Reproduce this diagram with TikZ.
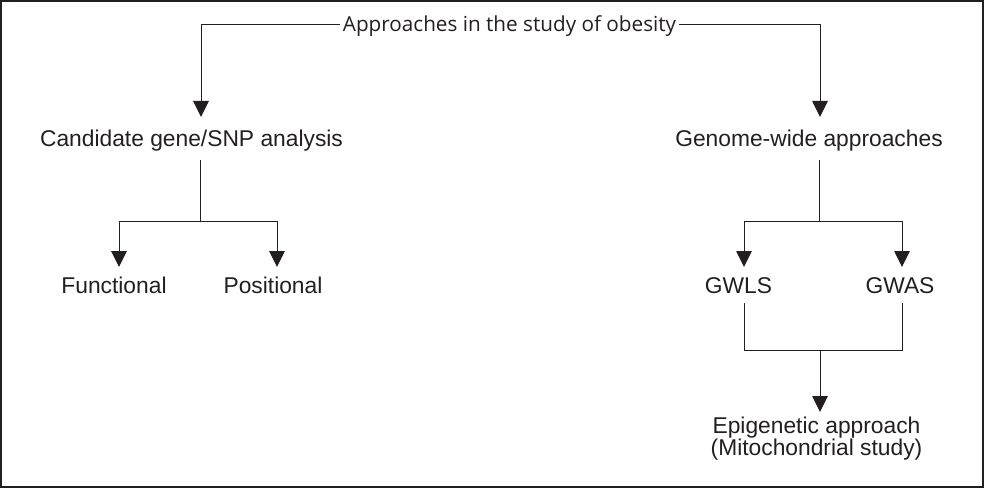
\documentclass[tikz,border=0pt]{standalone}
\usepackage{fontspec}
\setmainfont{Liberation Sans}
\newfontfamily\titlefont{Open Sans}
\usetikzlibrary{arrows.meta}
\definecolor{ink}{RGB}{35,31,32}
\begin{document}
\begin{tikzpicture}[x=1pt,y=-1pt,
  lbl/.style={font=\fontsize{22.8}{22}\selectfont, anchor=base, inner sep=0pt, text=ink, align=center},
  ttl/.style={font=\titlefont\fontsize{20.7}{24}\selectfont, anchor=base, inner xsep=3pt, inner ysep=0pt, text=ink},
  ln/.style={line width=1pt, draw=ink},
  arr/.style={ln, -{Triangle[width=15.5pt,length=16pt,fill=ink]}}]
\useasboundingbox (0,0) rectangle (987,489);
\draw[line width=1.6pt, draw=ink] (1,1) rectangle (983,487);

% nodes
\node[ttl] (t) at (509.5,31.5) {Approaches in the study of obesity};
\node[lbl] (c) at (191.5,147) {Candidate gene/SNP analysis};
\node[lbl] (g) at (809,147) {Genome-wide approaches};
\node[lbl] (f) at (114,293) {Functional};
\node[lbl] (p) at (273,293) {Positional};
\node[lbl] (l) at (738.5,293) {GWLS};
\node[lbl] (a) at (900,293) {GWAS};
\node[lbl] (e) at (816.5,455) {Epigenetic approach\\(Mitochondrial study)};

% helper coordinates
\coordinate (tw) at ([yshift=6.5pt]t.base west);
\coordinate (te) at ([yshift=6.5pt]t.base east);
\coordinate (cin) at (201,117);
\coordinate (gin) at (820,117);
\coordinate (cout) at (200,160);
\coordinate (cj) at (200,221);
\coordinate (fin) at (119,267);
\coordinate (pin) at (277,267);
\coordinate (gout) at (819,160);
\coordinate (gj) at (819,221);
\coordinate (lin) at (744,267);
\coordinate (ain) at (902,267);
\coordinate (lout) at (744,303);
\coordinate (aout) at (902,303);
\coordinate (mj) at (820,350);
\coordinate (ein) at (820,412);

% connectors
\draw[arr] (tw) -| (cin);
\draw[arr] (te) -| (gin);
\draw[ln] (cout) -- (cj);
\draw[arr] (cj) -| (fin);
\draw[arr] (cj) -| (pin);
\draw[ln] (gout) -- (gj);
\draw[arr] (gj) -| (lin);
\draw[arr] (gj) -| (ain);
\draw[ln] (lout) |- (mj);
\draw[ln] (aout) |- (mj);
\draw[arr] (mj) -- (ein);
\end{tikzpicture}
\end{document}
